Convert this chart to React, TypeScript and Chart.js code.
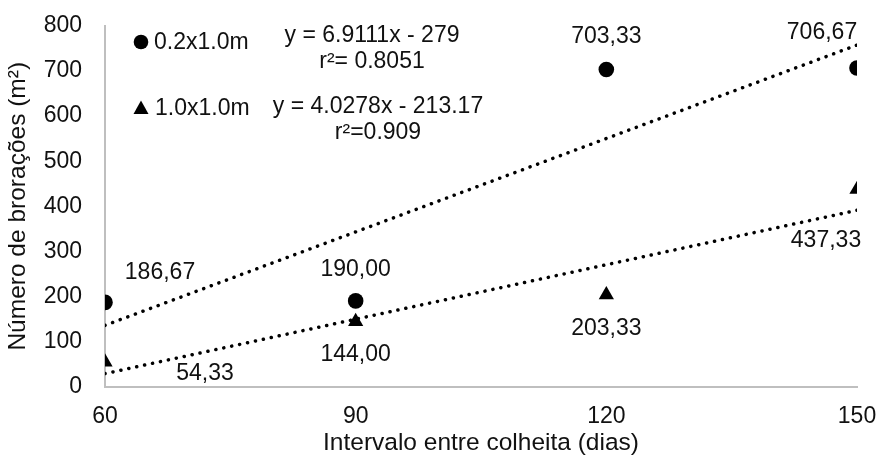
import React, { useEffect, useRef } from "react";
import { Chart, registerables } from "chart.js";

Chart.register(...registerables);

// ---- data ----
const xValues = [60, 90, 120, 150];
const series02 = [186.67, 190.0, 703.33, 706.67];
const series10 = [54.33, 144.0, 203.33, 437.33];
const labels02 = ["186,67", "190,00", "703,33", "706,67"];
const labels10 = ["54,33", "144,00", "203,33", "437,33"];
const trendX = [60, 150];
const trend02 = [135.67, 757.67];
const trend10 = [28.5, 391.0];
const legendNames = ["0.2x1.0m", "1.0x1.0m"];
const equations02 = ["y = 6.9111x - 279", "r²= 0.8051"];
const equations10 = ["y = 4.0278x - 213.17", "r²=0.909"];
const xTitle = "Intervalo entre colheita (dias)";
const yTitle = "Número de brorações (m²)";

// label offsets (pixels) relative to each point
const off02 = [[55, -30], [0, -31], [0, -33], [-35, -35]];
const off10 = [[100, 12], [0, 33], [0, 34], [-31, 51]];

const FONT = "'Liberation Sans', Arial, sans-serif";
const TXT = "#111";

const annotationPlugin = {
  id: "annots",
  afterDatasetsDraw(chart: any) {
    const ctx = chart.ctx;
    const xs = chart.scales.x;
    const ys = chart.scales.y;
    ctx.save();
    ctx.fillStyle = TXT;
    ctx.font = `23px ${FONT}`;
    ctx.textAlign = "center";
    ctx.textBaseline = "middle";
    xValues.forEach((xv, i) => {
      const px = xs.getPixelForValue(xv);
      ctx.fillText(labels02[i], px + off02[i][0], ys.getPixelForValue(series02[i]) + off02[i][1]);
      ctx.fillText(labels10[i], px + off10[i][0], ys.getPixelForValue(series10[i]) + off10[i][1]);
    });
    // equations
    ctx.fillText(equations02[0], 372, 36);
    ctx.fillText(equations02[1], 372, 62);
    ctx.fillText(equations10[0], 378, 107);
    ctx.fillText(equations10[1], 378, 133);
    // legend
    ctx.textAlign = "left";
    ctx.fillText(legendNames[0], 154, 43);
    ctx.fillText(legendNames[1], 155, 109);
    ctx.fillStyle = "#000";
    ctx.beginPath();
    ctx.arc(141, 42, 7.3, 0, Math.PI * 2);
    ctx.fill();
    ctx.beginPath();
    ctx.moveTo(141, 100.5);
    ctx.lineTo(148.5, 114);
    ctx.lineTo(133.5, 114);
    ctx.closePath();
    ctx.fill();
    ctx.restore();
  },
};

export default function App() {
  const ref = useRef<HTMLCanvasElement | null>(null);
  useEffect(() => {
    document.body.style.margin = "0";
    const canvas = ref.current!;
    const chart = new Chart(canvas, {
      type: "scatter",
      data: {
        datasets: [
          {
            label: legendNames[0],
            data: xValues.map((x, i) => ({ x, y: series02[i] })),
            pointStyle: "circle",
            pointRadius: 7.8,
            pointHoverRadius: 7.8,
            backgroundColor: "#000",
            borderColor: "#000",
            borderWidth: 0,
            order: 0,
          },
          {
            label: legendNames[1],
            data: xValues.map((x, i) => ({ x, y: series10[i] })),
            pointStyle: "triangle",
            pointRadius: 8.8,
            pointHoverRadius: 8.8,
            backgroundColor: "#000",
            borderColor: "#000",
            borderWidth: 0,
            order: 1,
          },
          {
            label: "trend02",
            data: trendX.map((x, i) => ({ x, y: trend02[i] })),
            showLine: true,
            pointRadius: 0,
            borderColor: "#000",
            borderWidth: 3.5,
            borderDash: [0.1, 8],
            borderCapStyle: "round",
            order: 2,
          },
          {
            label: "trend10",
            data: trendX.map((x, i) => ({ x, y: trend10[i] })),
            showLine: true,
            pointRadius: 0,
            borderColor: "#000",
            borderWidth: 3.5,
            borderDash: [0.1, 8],
            borderCapStyle: "round",
            order: 3,
          },
        ],
      },
      options: {
        animation: false,
        responsive: true,
        maintainAspectRatio: false,
        layout: { padding: { left: 0, right: 21, top: 26, bottom: 0 } },
        plugins: {
          legend: { display: false },
          tooltip: { enabled: false },
        },
        scales: {
          x: {
            type: "linear",
            min: 60,
            max: 150,
            ticks: {
              stepSize: 30,
              color: TXT,
              font: { family: FONT, size: 23 },
              padding: 16,
            },
            grid: { display: false, drawTicks: false },
            border: { display: true, color: "#bfbfbf", width: 2 },
            title: {
              display: true,
              text: xTitle,
              color: TXT,
              font: { family: FONT, size: 24.5 },
              padding: { top: 0, bottom: 8 },
            },
            afterFit: (s: any) => {
              s.height = 79.5;
              s.paddingLeft = 0;
              s.paddingRight = 0;
              s.paddingTop = 0;
              s.paddingBottom = 0;
            },
          },
          y: {
            type: "linear",
            min: 0,
            max: 800,
            ticks: {
              stepSize: 100,
              color: TXT,
              font: { family: FONT, size: 23 },
              padding: 23,
            },
            grid: { display: false, drawTicks: false },
            border: { display: true, color: "#bfbfbf", width: 2 },
            title: {
              display: true,
              text: yTitle,
              color: TXT,
              font: { family: FONT, size: 24.5 },
              padding: { top: 4, bottom: 0 },
            },
            afterFit: (s: any) => {
              s.width = 105;
              s.paddingLeft = 0;
              s.paddingRight = 0;
              s.paddingTop = 0;
              s.paddingBottom = 0;
            },
          },
        },
      },
      plugins: [annotationPlugin],
    });
    return () => chart.destroy();
  }, []);
  return (
    <div style={{ position: "fixed", left: 0, top: 0, width: 878, height: 466, background: "#fff" }}>
      <canvas ref={ref} />
    </div>
  );
}
